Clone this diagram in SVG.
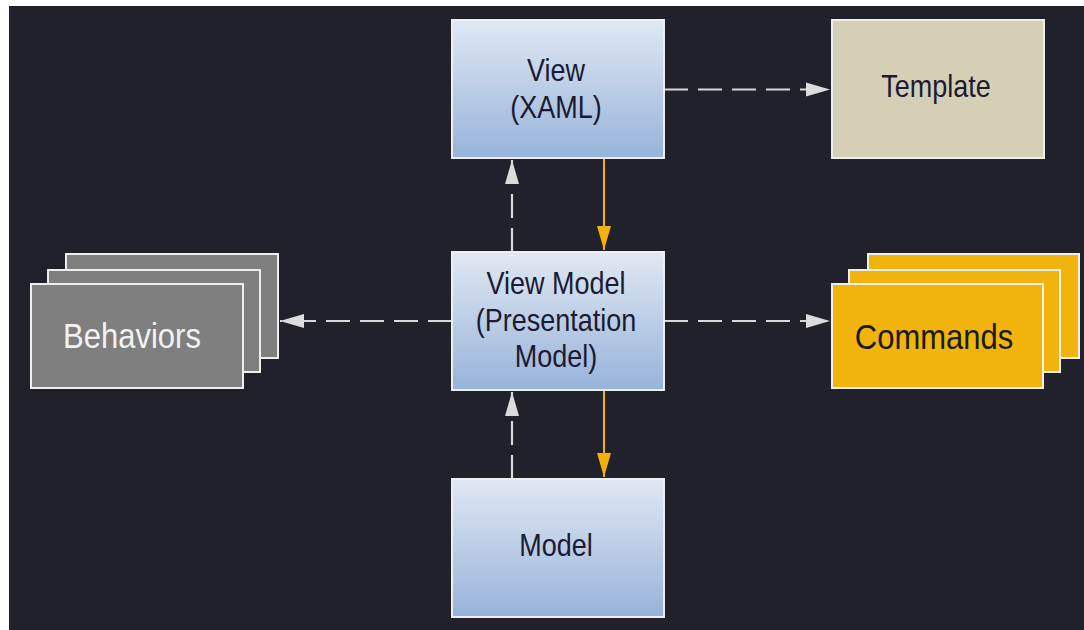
<svg xmlns="http://www.w3.org/2000/svg" width="1084" height="630" viewBox="0 0 1084 630">
  <defs>
    <linearGradient id="blueGrad" x1="0" y1="0" x2="0" y2="1">
      <stop offset="0" stop-color="#e0e8f3"/>
      <stop offset="1" stop-color="#97b3da"/>
    </linearGradient>
    <marker id="arrGray" markerUnits="userSpaceOnUse" markerWidth="26" markerHeight="16" viewBox="0 0 26 16" refX="24" refY="8" orient="auto">
      <path d="M0,1 L24,8 L0,15 Z" fill="#dcdcdc"/>
    </marker>
    <marker id="arrOrange" markerUnits="userSpaceOnUse" markerWidth="26" markerHeight="16" viewBox="0 0 26 16" refX="24" refY="8" orient="auto">
      <path d="M0,1 L24,8 L0,15 Z" fill="#f4b10b"/>
    </marker>
  </defs>
  <style>
    .box { stroke: #eeeeee; stroke-width: 2; }
    .blue { fill: url(#blueGrad); }
    .tmpl { fill: #d4cfb5; }
    .beh { fill: #7f7f7f; }
    .cmd { fill: #f1b40d; }
    .lbl { font-family: "Liberation Sans", Arial, sans-serif; font-size: 27px; fill: #1b1b33; text-anchor: middle; }
    .big { font-size: 31px; }
    .light { fill: #f2f2f2; }
    .dash { stroke: #d8d8d8; stroke-width: 2.2; stroke-dasharray: 24 10; fill: none; marker-end: url(#arrGray); }
    .solid { stroke: #f4b10b; stroke-width: 2; fill: none; marker-end: url(#arrOrange); }
  </style>
  <rect x="9" y="6" width="1075" height="624" fill="#20212b"/>

  <g id="connectors">
    <line class="dash" x1="664" y1="89.5" x2="830" y2="89.5"/>
    <line class="dash" x1="452" y1="321" x2="280" y2="321"/>
    <line class="dash" x1="664" y1="321" x2="830" y2="321"/>
    <line class="dash" x1="512" y1="252" x2="512" y2="160"/>
    <line class="dash" x1="512" y1="479" x2="512" y2="392"/>
    <line class="solid" x1="604" y1="158" x2="604" y2="250"/>
    <line class="solid" x1="604" y1="390" x2="604" y2="477"/>
  </g>

  <g id="view">
    <rect class="box blue" x="452" y="20" width="212" height="138"/>
    <text class="lbl" transform="translate(556,81) scale(1,1.15)">View</text>
    <text class="lbl" transform="translate(556,118) scale(1,1.15)">(XAML)</text>
  </g>

  <g id="template">
    <rect class="box tmpl" x="832" y="20" width="212" height="138"/>
    <text class="lbl" transform="translate(936,97) scale(1,1.15)">Template</text>
  </g>

  <g id="viewmodel">
    <rect class="box blue" x="452" y="252" width="212" height="138"/>
    <text class="lbl" transform="translate(556,294) scale(1,1.15)">View Model</text>
    <text class="lbl" transform="translate(556,330.5) scale(1,1.15)">(Presentation</text>
    <text class="lbl" transform="translate(556,367) scale(1,1.15)">Model)</text>
  </g>

  <g id="model">
    <rect class="box blue" x="452" y="479" width="212" height="138"/>
    <text class="lbl" transform="translate(556,556) scale(1,1.15)">Model</text>
  </g>

  <g id="behaviors">
    <rect class="box beh" x="66" y="254" width="212" height="104"/>
    <rect class="box beh" x="48" y="270" width="212" height="102"/>
    <rect class="box beh" x="31" y="284" width="212" height="104"/>
    <text class="lbl big light" transform="translate(132,348) scale(1,1.12)">Behaviors</text>
  </g>

  <g id="commands">
    <rect class="box cmd" x="868" y="254" width="211" height="104"/>
    <rect class="box cmd" x="849" y="270" width="211" height="102"/>
    <rect class="box cmd" x="832" y="284" width="211" height="104"/>
    <text class="lbl big" transform="translate(934,349) scale(1,1.12)" style="fill:#1a1a1a">Commands</text>
  </g>
</svg>
